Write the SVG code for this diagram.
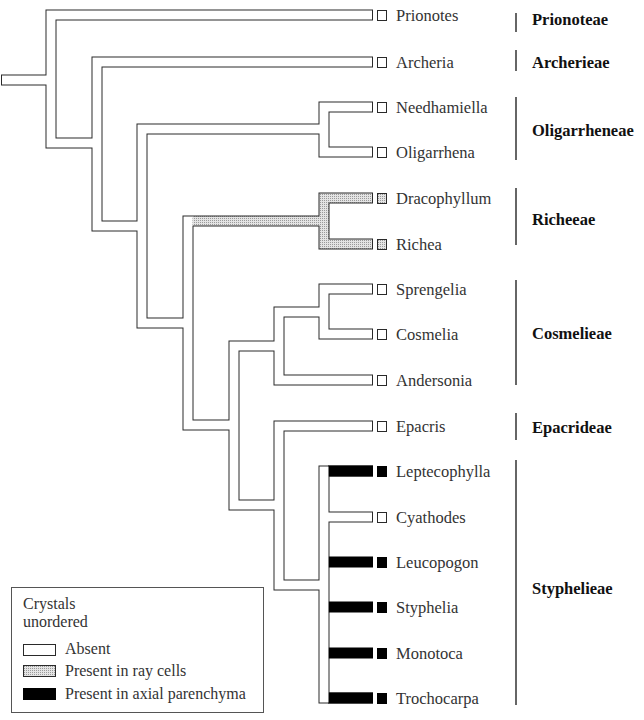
<svg xmlns="http://www.w3.org/2000/svg" width="644" height="720" viewBox="0 0 644 720">
<style>
.o{fill:none;stroke:#2a2a2a;stroke-width:11;stroke-linejoin:miter}
.k{fill:none;stroke:#000;stroke-width:11}
.w{fill:none;stroke:#fff;stroke-width:9;stroke-linejoin:miter}
.h{fill:none;stroke:url(#hatch);stroke-width:9;stroke-linejoin:miter}
.box{fill:#fff;stroke:#2a2a2a;stroke-width:1}
.hb{fill:url(#hatch);stroke:#2a2a2a;stroke-width:1}
.bb{fill:#000;stroke:#000;stroke-width:1}
.t{font-family:"Liberation Serif",serif;font-size:16.5px;fill:#333}
.lg{font-family:"Liberation Serif",serif;font-size:16px;fill:#333}
.tr{font-family:"Liberation Serif",serif;font-size:16.5px;font-weight:bold;fill:#111}
.bar{stroke:#333;stroke-width:1.5}
</style>
<defs>
<pattern id="hatch" width="2" height="2" patternUnits="userSpaceOnUse">
<rect width="2" height="2" fill="#e4e4e4"/>
<rect width="1" height="1" fill="#9a9a9a"/>
</pattern>
</defs>
<rect width="644" height="720" fill="#fff"/>
<g id="connectors">
<g class="o">
<path d="M1,80 H51"/>
<path d="M373,15 H51 V143 H97"/>
<path d="M373,62 H97 V226 H142"/>
<path d="M324,129 H142 V323 H188"/>
<path d="M373,107 H324 V152 H373"/>
<path d="M324,221 H188 V425 H234"/>
<path d="M373,198 H324 V244 H373"/>
<path d="M279,346 H234 V505 H279"/>
<path d="M373,380 H279 V312 H324"/>
<path d="M373,289 H324 V334 H373"/>
<path d="M373,426 H279 V585 H324"/>
<path d="M373,471 H324 V698 H373"/>
<path d="M324,517 H373"/>
</g>
<g class="k">
<path d="M328,471 H373 M328,562 H373 M328,607 H373 M328,653 H373 M328,698 H373"/>
</g>
<g class="w">
<path d="M2,80 H51"/>
<path d="M372,15 H51 V143 H97"/>
<path d="M372,62 H97 V226 H142"/>
<path d="M324,129 H142 V323 H188"/>
<path d="M372,107 H324 V152 H372"/>
<path d="M193,221 H188 V425 H234"/>
<path d="M279,346 H234 V505 H279"/>
<path d="M372,380 H279 V312 H324"/>
<path d="M372,289 H324 V334 H372"/>
<path d="M372,426 H279 V585 H324"/>
<path d="M328.5,471 H324 V698 H328.5"/>
<path d="M324,517 H372"/>
</g>
<g class="h">
<path d="M192.5,221 H324"/>
<path d="M372,198 H324 V244 H372"/>
</g>
</g>
<g id="Prionotes"><rect class="box" x="377.5" y="10.5" width="9" height="10"/><text class="t" x="396" y="21">Prionotes</text></g>
<g id="Archeria"><rect class="box" x="377.5" y="57.5" width="9" height="10"/><text class="t" x="396" y="68">Archeria</text></g>
<g id="Needhamiella"><rect class="box" x="377.5" y="102.5" width="9" height="10"/><text class="t" x="396" y="113">Needhamiella</text></g>
<g id="Oligarrhena"><rect class="box" x="377.5" y="147.5" width="9" height="10"/><text class="t" x="396" y="158">Oligarrhena</text></g>
<g id="Dracophyllum"><rect class="hb" x="377.5" y="193.5" width="9" height="10"/><text class="t" x="396" y="204">Dracophyllum</text></g>
<g id="Richea"><rect class="hb" x="377.5" y="239.5" width="9" height="10"/><text class="t" x="396" y="250">Richea</text></g>
<g id="Sprengelia"><rect class="box" x="377.5" y="284.5" width="9" height="10"/><text class="t" x="396" y="295">Sprengelia</text></g>
<g id="Cosmelia"><rect class="box" x="377.5" y="329.5" width="9" height="10"/><text class="t" x="396" y="340">Cosmelia</text></g>
<g id="Andersonia"><rect class="box" x="377.5" y="375.5" width="9" height="10"/><text class="t" x="396" y="386">Andersonia</text></g>
<g id="Epacris"><rect class="box" x="377.5" y="421.5" width="9" height="10"/><text class="t" x="396" y="432">Epacris</text></g>
<g id="Leptecophylla"><rect class="bb" x="377.5" y="466.5" width="9" height="10"/><text class="t" x="396" y="477">Leptecophylla</text></g>
<g id="Cyathodes"><rect class="box" x="377.5" y="512.5" width="9" height="10"/><text class="t" x="396" y="523">Cyathodes</text></g>
<g id="Leucopogon"><rect class="bb" x="377.5" y="557.5" width="9" height="10"/><text class="t" x="396" y="568">Leucopogon</text></g>
<g id="Styphelia"><rect class="bb" x="377.5" y="602.5" width="9" height="10"/><text class="t" x="396" y="613">Styphelia</text></g>
<g id="Monotoca"><rect class="bb" x="377.5" y="648.5" width="9" height="10"/><text class="t" x="396" y="659">Monotoca</text></g>
<g id="Trochocarpa"><rect class="bb" x="377.5" y="693.5" width="9" height="10"/><text class="t" x="396" y="704">Trochocarpa</text></g>
<g id="tribes">
<g id="Prionoteae"><line class="bar" x1="516" y1="13" x2="516" y2="32"/><text class="tr" x="532" y="25">Prionoteae</text></g>
<g id="Archerieae"><line class="bar" x1="516" y1="50" x2="516" y2="71"/><text class="tr" x="532" y="68">Archerieae</text></g>
<g id="Oligarrheneae"><line class="bar" x1="516" y1="97" x2="516" y2="160"/><text class="tr" x="532" y="136">Oligarrheneae</text></g>
<g id="Richeeae"><line class="bar" x1="516" y1="188" x2="516" y2="245"/><text class="tr" x="532" y="225">Richeeae</text></g>
<g id="Cosmelieae"><line class="bar" x1="516" y1="280" x2="516" y2="385"/><text class="tr" x="532" y="339">Cosmelieae</text></g>
<g id="Epacrideae"><line class="bar" x1="516" y1="413" x2="516" y2="440"/><text class="tr" x="532" y="433">Epacrideae</text></g>
<g id="Styphelieae"><line class="bar" x1="516" y1="460" x2="516" y2="705"/><text class="tr" x="532" y="594">Styphelieae</text></g>
</g>
<g id="legend">
<rect x="11.5" y="587.5" width="252" height="125" fill="#fff" stroke="#555" stroke-width="1"/>
<text class="lg" x="23" y="609">Crystals</text>
<text class="lg" x="23" y="627">unordered</text>
<rect class="box" x="23.5" y="644.5" width="32" height="11"/>
<text class="lg" x="65" y="654">Absent</text>
<rect class="hb" x="23.5" y="665.5" width="32" height="11"/>
<text class="lg" x="65" y="676">Present in ray cells</text>
<rect class="bb" x="23.5" y="688.5" width="32" height="11"/>
<text class="lg" x="65" y="699">Present in axial parenchyma</text>
</g>
</svg>
